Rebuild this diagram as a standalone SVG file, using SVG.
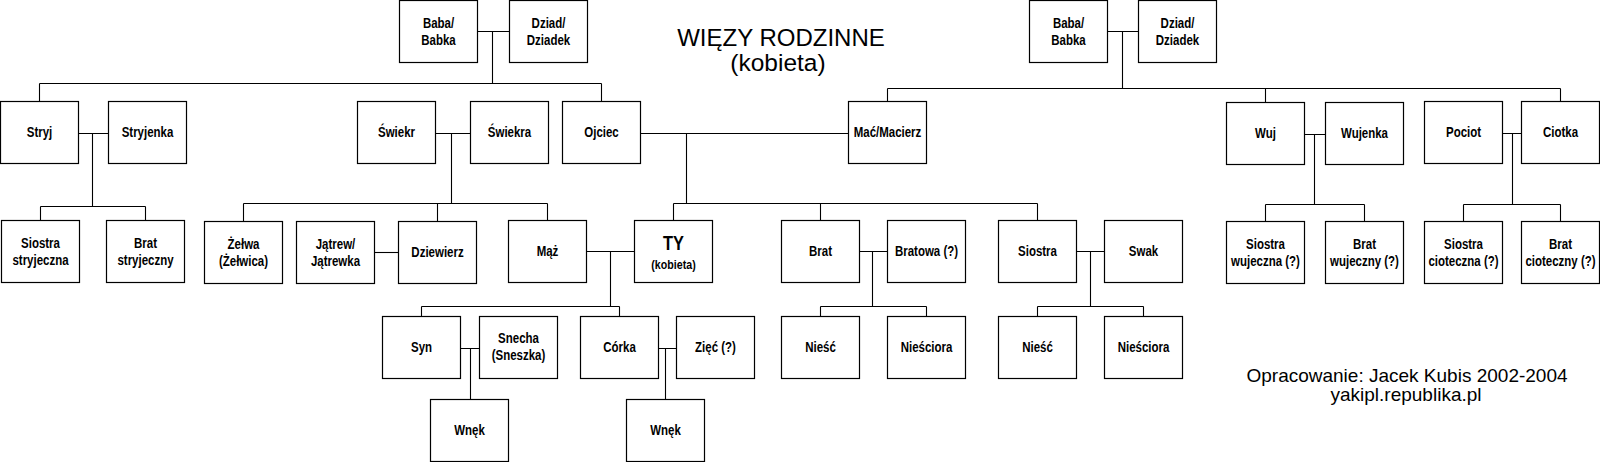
<svg xmlns="http://www.w3.org/2000/svg" width="1600" height="462" viewBox="0 0 1600 462">
<style>
.b{fill:#fff;stroke:#000;stroke-width:1.2}
.c{fill:none;stroke:#000;stroke-width:1.1}
.t{font-family:"Liberation Sans Narrow","Liberation Sans",Arial,sans-serif;font-weight:bold;font-size:14px;text-anchor:middle;fill:#000}
.h{font-family:"Liberation Sans",Arial,sans-serif;text-anchor:middle;fill:#000}
</style>
<rect width="1600" height="462" fill="#fff"/>
<g id="connectors">
<path class="c" d="M477.5 31.5H509.5M492.5 31.5V83.5M39.5 83.5H601.5M39.5 83.5V101.5M601.5 83.5V101.5"/>
<path class="c" d="M78.5 133.5H108.5M92.5 133.5V206.5M40.5 206.5H145.5M40.5 206.5V220.5M145.5 206.5V220.5"/>
<path class="c" d="M435.5 133.5H470.5M451.5 133.5V203.5M243.5 203.5H547.5M243.5 203.5V221.5M437.5 203.5V221.5M547.5 203.5V220.5"/>
<path class="c" d="M374.5 252.5H398.5"/>
<path class="c" d="M640.5 133.5H848.5M686.5 133.5V203.5M673.5 203.5H1037.5M673.5 203.5V220.5M820.5 203.5V220.5M1037.5 203.5V220.5"/>
<path class="c" d="M1107.5 31.5H1138.5M1122.5 31.5V88.5M887.5 88.5H1560.5M887.5 88.5V101.5M1265.5 88.5V102.5M1560.5 88.5V101.5"/>
<path class="c" d="M1304.5 134.5H1325.5M1314.5 134.5V204.5M1265.5 204.5H1364.5M1265.5 204.5V221.5M1364.5 204.5V221.5"/>
<path class="c" d="M1502.5 133.5H1521.5M1512.5 133.5V204.5M1463.5 204.5H1560.5M1463.5 204.5V221.5M1560.5 204.5V221.5"/>
<path class="c" d="M586.5 251.5H634.5M610.5 251.5V306.5M421.5 306.5H619.5M421.5 306.5V316.5M619.5 306.5V316.5"/>
<path class="c" d="M460.5 348.5H479.5M470.5 348.5V399.5M658.5 348.5H676.5M665.5 348.5V399.5"/>
<path class="c" d="M859.5 251.5H887.5M872.5 251.5V306.5M820.5 306.5H926.5M820.5 306.5V316.5M926.5 306.5V316.5"/>
<path class="c" d="M1076.5 251.5H1104.5M1090.5 251.5V306.5M1037.5 306.5H1143.5M1037.5 306.5V316.5M1143.5 306.5V316.5"/>
</g>
<g id="title">
<text class="h" x="781" y="46" font-size="24">WIĘZY RODZINNE</text>
<text class="h" x="778" y="70.5" font-size="24.5">(kobieta)</text>
</g>
<g id="footer">
<text class="h" x="1407" y="381.5" font-size="19">Opracowanie: Jacek Kubis 2002-2004</text>
<text class="h" x="1406" y="401" font-size="19">yakipl.republika.pl</text>
</g>
<g id="baba-l"><rect class="b" x="399.5" y="0.5" width="78" height="62"/><text class="t" transform="translate(438.5 27.5) scale(.82 1)">Baba/</text><text class="t" transform="translate(438.5 44.5) scale(.82 1)">Babka</text></g>
<g id="dziad-l"><rect class="b" x="509.5" y="0.5" width="78" height="62"/><text class="t" transform="translate(548.5 27.5) scale(.82 1)">Dziad/</text><text class="t" transform="translate(548.5 44.5) scale(.82 1)">Dziadek</text></g>
<g id="baba-r"><rect class="b" x="1029.5" y="0.5" width="78" height="62"/><text class="t" transform="translate(1068.5 27.5) scale(.82 1)">Baba/</text><text class="t" transform="translate(1068.5 44.5) scale(.82 1)">Babka</text></g>
<g id="dziad-r"><rect class="b" x="1138.5" y="0.5" width="78" height="62"/><text class="t" transform="translate(1177.5 27.5) scale(.82 1)">Dziad/</text><text class="t" transform="translate(1177.5 44.5) scale(.82 1)">Dziadek</text></g>
<g id="stryj"><rect class="b" x="0.5" y="101.5" width="78" height="62"/><text class="t" transform="translate(39.5 137) scale(.82 1)">Stryj</text></g>
<g id="stryjenka"><rect class="b" x="108.5" y="101.5" width="78" height="62"/><text class="t" transform="translate(147.5 137) scale(.82 1)">Stryjenka</text></g>
<g id="swiekr"><rect class="b" x="357.5" y="101.5" width="78" height="62"/><text class="t" transform="translate(396.5 137) scale(.82 1)">Świekr</text></g>
<g id="swiekra"><rect class="b" x="470.5" y="101.5" width="78" height="62"/><text class="t" transform="translate(509.5 137) scale(.82 1)">Świekra</text></g>
<g id="ojciec"><rect class="b" x="562.5" y="101.5" width="78" height="62"/><text class="t" transform="translate(601.5 137) scale(.82 1)">Ojciec</text></g>
<g id="mac"><rect class="b" x="848.5" y="101.5" width="78" height="62"/><text class="t" transform="translate(887.5 137) scale(.82 1)">Mać/Macierz</text></g>
<g id="wuj"><rect class="b" x="1226.5" y="102.5" width="78" height="62"/><text class="t" transform="translate(1265.5 138) scale(.82 1)">Wuj</text></g>
<g id="wujenka"><rect class="b" x="1325.5" y="102.5" width="78" height="62"/><text class="t" transform="translate(1364.5 138) scale(.82 1)">Wujenka</text></g>
<g id="pociot"><rect class="b" x="1424.5" y="101.5" width="78" height="62"/><text class="t" transform="translate(1463.5 137) scale(.82 1)">Pociot</text></g>
<g id="ciotka"><rect class="b" x="1521.5" y="101.5" width="78" height="62"/><text class="t" transform="translate(1560.5 137) scale(.82 1)">Ciotka</text></g>
<g id="siostra-stryjeczna"><rect class="b" x="1.5" y="220.5" width="78" height="62"/><text class="t" transform="translate(40.5 247.5) scale(.82 1)">Siostra</text><text class="t" transform="translate(40.5 264.5) scale(.82 1)">stryjeczna</text></g>
<g id="brat-stryjeczny"><rect class="b" x="106.5" y="220.5" width="78" height="62"/><text class="t" transform="translate(145.5 247.5) scale(.82 1)">Brat</text><text class="t" transform="translate(145.5 264.5) scale(.82 1)">stryjeczny</text></g>
<g id="zelwa"><rect class="b" x="204.5" y="221.5" width="78" height="62"/><text class="t" transform="translate(243.5 248.5) scale(.82 1)">Żełwa</text><text class="t" transform="translate(243.5 265.5) scale(.82 1)">(Żełwica)</text></g>
<g id="jatrew"><rect class="b" x="296.5" y="221.5" width="78" height="62"/><text class="t" transform="translate(335.5 248.5) scale(.82 1)">Jątrew/</text><text class="t" transform="translate(335.5 265.5) scale(.82 1)">Jątrewka</text></g>
<g id="dziewierz"><rect class="b" x="398.5" y="221.5" width="78" height="62"/><text class="t" transform="translate(437.5 257) scale(.82 1)">Dziewierz</text></g>
<g id="maz"><rect class="b" x="508.5" y="220.5" width="78" height="62"/><text class="t" transform="translate(547.5 256) scale(.82 1)">Mąż</text></g>
<g id="ty"><rect class="b" x="634.5" y="220.5" width="78" height="62"/><text class="t" style="font-size:20px" transform="translate(673.5 250) scale(.82 1)">TY</text><text class="t" style="font-size:13px" transform="translate(673.5 269) scale(.82 1)">(kobieta)</text></g>
<g id="brat"><rect class="b" x="781.5" y="220.5" width="78" height="62"/><text class="t" transform="translate(820.5 256) scale(.82 1)">Brat</text></g>
<g id="bratowa"><rect class="b" x="887.5" y="220.5" width="78" height="62"/><text class="t" transform="translate(926.5 256) scale(.82 1)">Bratowa (?)</text></g>
<g id="siostra"><rect class="b" x="998.5" y="220.5" width="78" height="62"/><text class="t" transform="translate(1037.5 256) scale(.82 1)">Siostra</text></g>
<g id="swak"><rect class="b" x="1104.5" y="220.5" width="78" height="62"/><text class="t" transform="translate(1143.5 256) scale(.82 1)">Swak</text></g>
<g id="siostra-wujeczna"><rect class="b" x="1226.5" y="221.5" width="78" height="62"/><text class="t" transform="translate(1265.5 248.5) scale(.82 1)">Siostra</text><text class="t" transform="translate(1265.5 265.5) scale(.82 1)">wujeczna (?)</text></g>
<g id="brat-wujeczny"><rect class="b" x="1325.5" y="221.5" width="78" height="62"/><text class="t" transform="translate(1364.5 248.5) scale(.82 1)">Brat</text><text class="t" transform="translate(1364.5 265.5) scale(.82 1)">wujeczny (?)</text></g>
<g id="siostra-cioteczna"><rect class="b" x="1424.5" y="221.5" width="78" height="62"/><text class="t" transform="translate(1463.5 248.5) scale(.82 1)">Siostra</text><text class="t" transform="translate(1463.5 265.5) scale(.82 1)">cioteczna (?)</text></g>
<g id="brat-cioteczny"><rect class="b" x="1521.5" y="221.5" width="78" height="62"/><text class="t" transform="translate(1560.5 248.5) scale(.82 1)">Brat</text><text class="t" transform="translate(1560.5 265.5) scale(.82 1)">cioteczny (?)</text></g>
<g id="syn"><rect class="b" x="382.5" y="316.5" width="78" height="62"/><text class="t" transform="translate(421.5 352) scale(.82 1)">Syn</text></g>
<g id="snecha"><rect class="b" x="479.5" y="316.5" width="78" height="62"/><text class="t" transform="translate(518.5 343) scale(.82 1)">Snecha</text><text class="t" transform="translate(518.5 359.5) scale(.82 1)">(Sneszka)</text></g>
<g id="corka"><rect class="b" x="580.5" y="316.5" width="78" height="62"/><text class="t" transform="translate(619.5 352) scale(.82 1)">Córka</text></g>
<g id="ziec"><rect class="b" x="676.5" y="316.5" width="78" height="62"/><text class="t" transform="translate(715.5 352) scale(.82 1)">Zięć (?)</text></g>
<g id="niesc-1"><rect class="b" x="781.5" y="316.5" width="78" height="62"/><text class="t" transform="translate(820.5 352) scale(.82 1)">Nieść</text></g>
<g id="niesciora-1"><rect class="b" x="887.5" y="316.5" width="78" height="62"/><text class="t" transform="translate(926.5 352) scale(.82 1)">Nieściora</text></g>
<g id="niesc-2"><rect class="b" x="998.5" y="316.5" width="78" height="62"/><text class="t" transform="translate(1037.5 352) scale(.82 1)">Nieść</text></g>
<g id="niesciora-2"><rect class="b" x="1104.5" y="316.5" width="78" height="62"/><text class="t" transform="translate(1143.5 352) scale(.82 1)">Nieściora</text></g>
<g id="wnek-1"><rect class="b" x="430.5" y="399.5" width="78" height="62"/><text class="t" transform="translate(469.5 435) scale(.82 1)">Wnęk</text></g>
<g id="wnek-2"><rect class="b" x="626.5" y="399.5" width="78" height="62"/><text class="t" transform="translate(665.5 435) scale(.82 1)">Wnęk</text></g>
</svg>
